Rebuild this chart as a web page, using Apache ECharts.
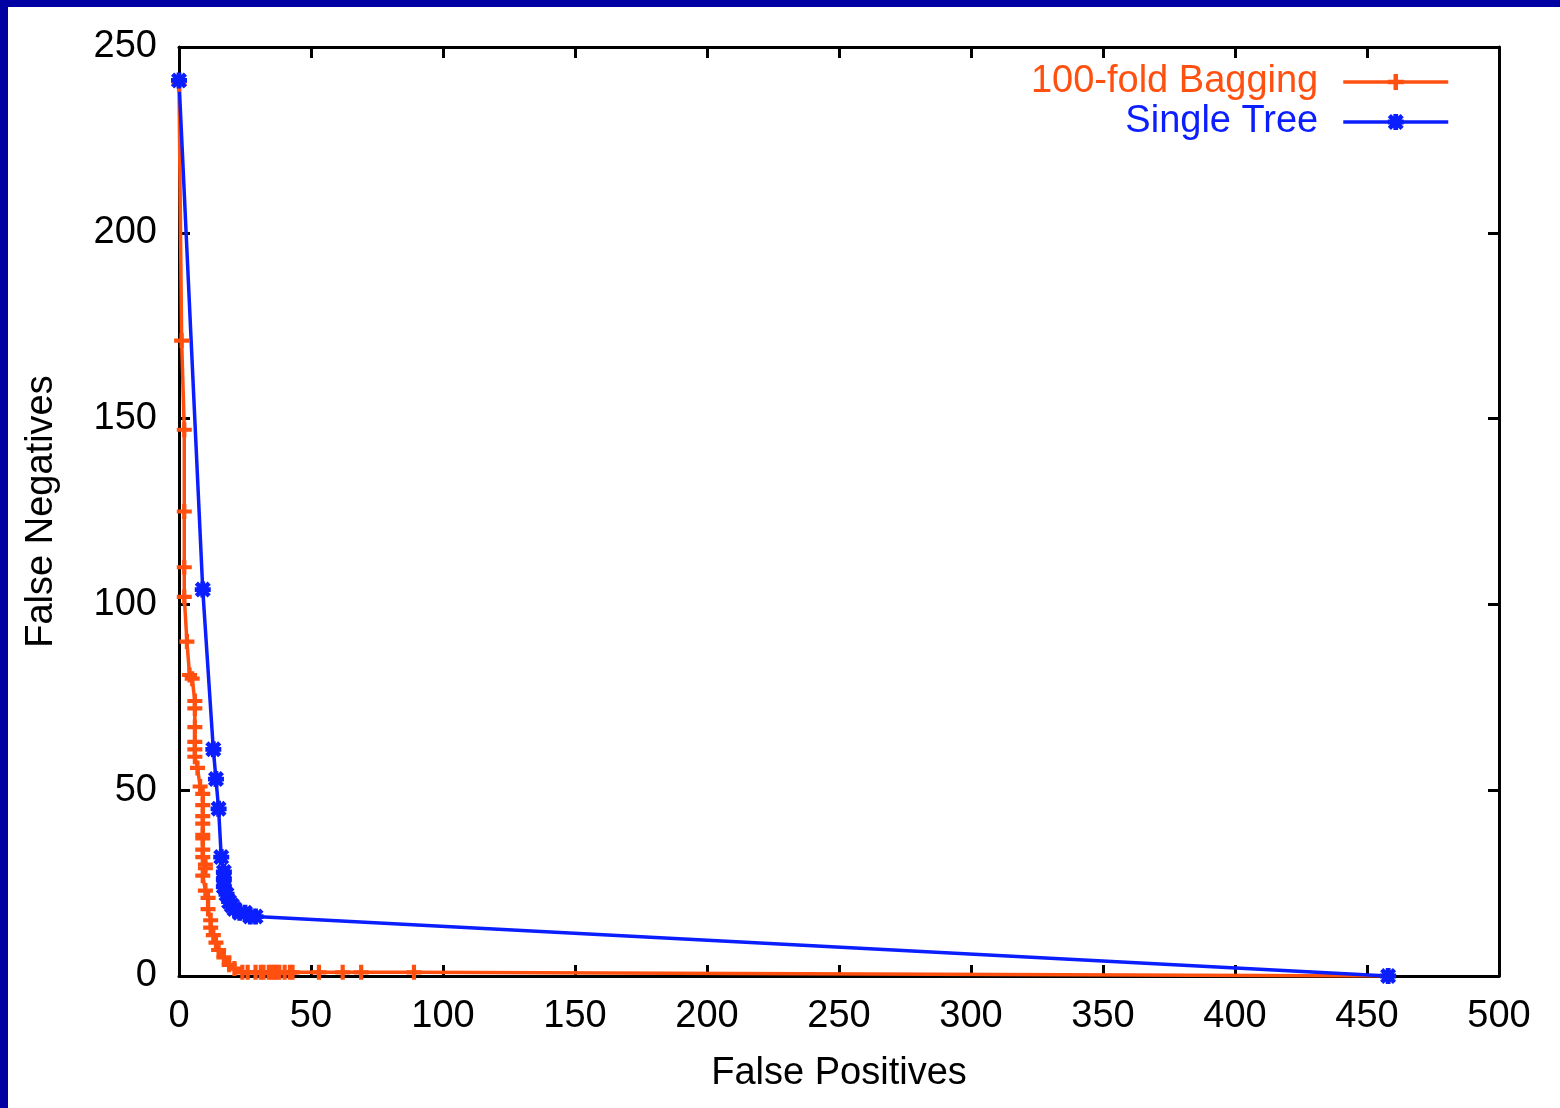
<!DOCTYPE html>
<html>
<head>
<meta charset="utf-8">
<script src="https://cdn.jsdelivr.net/npm/echarts@6/dist/echarts.min.js"></script>
<style>
  html, body { margin: 0; padding: 0; background: #0000a3; width: 1560px; height: 1108px; overflow: hidden; }
  #chart { position: absolute; left: 8px; top: 7px; width: 1552px; height: 1101px; background: #ffffff; }
</style>
</head>
<body>
<div id="chart"></div>
<script>
// Error trade-off curves: false positives vs. false negatives
const seriesNames = ['100-fold Bagging', 'Single Tree'];
const seriesColors = ['#ff5010', '#0a1eff'];

// 100-fold Bagging
const baggingFP = [0, 1, 2, 2, 2, 2, 3, 4, 5, 6, 6, 6, 6, 6, 6, 7, 8, 9, 9, 9, 9, 9, 9, 9, 9, 10, 10, 9, 10, 11, 11, 12, 12, 13, 14, 15, 17, 19, 21, 24, 26, 29, 31, 32, 34, 35, 36, 37, 38, 40, 42, 43, 53, 62, 69, 89, 458];
const baggingFN = [240, 171, 147, 125, 110, 102, 90, 81, 80, 74, 72, 67, 63, 61, 59, 56, 51, 49, 46, 43, 41, 38, 37, 34, 32, 30, 29, 27, 23, 21, 18, 15, 13, 11, 9, 7, 5, 3, 2, 1, 1, 1, 1, 1, 1, 1, 1, 1, 1, 1, 1, 1, 1, 1, 1, 1, 0];

// Single Tree
const treeFP = [0, 9, 13, 14, 15, 16, 17, 17, 17, 18, 19, 20, 21, 23, 25, 27, 29, 458];
const treeFN = [241, 104, 61, 53, 45, 32, 28, 26, 24, 22, 20, 19, 18, 17, 17, 16, 16, 0];

const xTicks = [0, 50, 100, 150, 200, 250, 300, 350, 400, 450, 500];
const yTicks = [0, 50, 100, 150, 200, 250];

const FONT = '"Liberation Sans", Arial, sans-serif';
const FS = 38;

// point glyphs: a plus sign and an eight-armed asterisk
const plusPath = 'path://M3.6,0L6.4,0L6.4,10L3.6,10ZM0,3.6L10,3.6L10,6.4L0,6.4Z';
const starPath = 'path://M3.5,0L6.5,0L6.5,10L3.5,10ZM0,3.5L10,3.5L10,6.5L0,6.5Z' +
  'M2,0L10,8L8,10L0,2ZM8,0L10,2L2,10L0,8Z';

const zip = (xs, ys) => xs.map((x, i) => [x, ys[i]]);

const chart = echarts.init(document.getElementById('chart'), null, { renderer: 'canvas' });

const axisCommon = {
  type: 'value',
  axisLine: { show: true, onZero: false, lineStyle: { color: '#000', width: 3 } },
  axisTick: { show: true, inside: true, length: 11, lineStyle: { color: '#000', width: 3 } },
  splitLine: { show: false }
};

chart.setOption({
  backgroundColor: '#ffffff',
  animation: false,
  grid: { left: 171, right: 61, top: 40, bottom: 132, containLabel: false },
  legend: {
    orient: 'vertical',
    right: 110,
    top: 55,
    align: 'right',
    padding: 0,
    itemWidth: 105,
    itemHeight: 20,
    itemGap: 0,
    lineStyle: { width: 3.5 },
    textStyle: { fontFamily: FONT, fontSize: FS, lineHeight: 40, padding: [0, 20, 0, 0] },
    data: seriesNames.map((n, i) => ({ name: n, textStyle: { color: seriesColors[i] } }))
  },
  xAxis: [
    Object.assign({}, axisCommon, {
      position: 'bottom', min: xTicks[0], max: xTicks[xTicks.length - 1], interval: 50,
      name: 'False Positives', nameLocation: 'middle', nameGap: 79,
      nameTextStyle: { fontFamily: FONT, fontSize: FS, color: '#000' },
      axisLabel: { fontFamily: FONT, fontSize: FS, color: '#000', margin: 22 }
    }),
    Object.assign({}, axisCommon, {
      position: 'top', min: xTicks[0], max: xTicks[xTicks.length - 1], interval: 50,
      axisLabel: { show: false }
    })
  ],
  yAxis: [
    Object.assign({}, axisCommon, {
      position: 'left', min: yTicks[0], max: yTicks[yTicks.length - 1], interval: 50,
      name: 'False Negatives', nameLocation: 'middle', nameGap: 118,
      nameTextStyle: { fontFamily: FONT, fontSize: FS, color: '#000' },
      axisLabel: { fontFamily: FONT, fontSize: FS, color: '#000', margin: 22 }
    }),
    Object.assign({}, axisCommon, {
      position: 'right', min: yTicks[0], max: yTicks[yTicks.length - 1], interval: 50,
      axisLabel: { show: false }
    })
  ],
  series: [
    {
      name: seriesNames[0], type: 'line', xAxisIndex: 0, yAxisIndex: 0,
      data: zip(baggingFP, baggingFN),
      symbol: plusPath, symbolSize: 15, showAllSymbol: true,
      lineStyle: { color: seriesColors[0], width: 3.5 },
      itemStyle: { color: seriesColors[0] },
      emphasis: { disabled: true }
    },
    {
      name: seriesNames[1], type: 'line', xAxisIndex: 0, yAxisIndex: 0,
      data: zip(treeFP, treeFN),
      symbol: starPath, symbolSize: 16, showAllSymbol: true,
      lineStyle: { color: seriesColors[1], width: 3.5 },
      itemStyle: { color: seriesColors[1] },
      emphasis: { disabled: true }
    }
  ]
});
</script>
</body>
</html>
